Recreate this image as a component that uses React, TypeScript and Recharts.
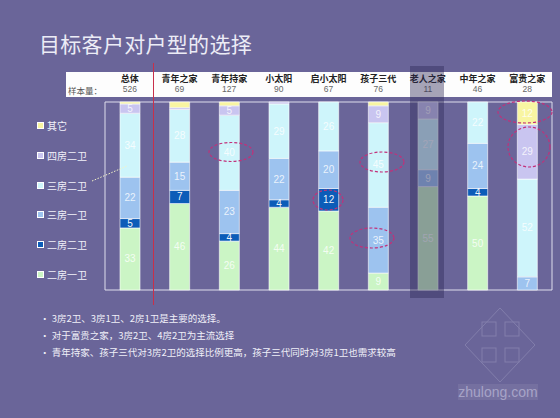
import React from 'react'
import { BarChart, Bar, XAxis, YAxis, LabelList, ReferenceArea } from 'recharts'

const categories = ['总体', '青年之家', '青年持家', '小太阳', '启小太阳', '孩子三代', '老人之家', '中年之家', '富贵之家']
const sampleSizes = [526, 69, 127, 90, 67, 76, 11, 46, 28]

// percent of each household type, bottom to top of the stack
const twoRoomOneBath = [33, 46, 26, 44, 42, 9, 55, 50, 0]
const twoRoomTwoBath = [5, 7, 4, 4, 12, 0, 0, 4, 0]
const threeRoomOneBath = [22, 15, 23, 22, 20, 35, 9, 24, 7]
const threeRoomTwoBath = [34, 28, 40, 29, 26, 45, 27, 22, 52]
const fourRoomTwoBath = [5, 1, 5, 1, 0, 9, 9, 0, 29]
const otherType = [1, 3, 2, 0, 0, 2, 0, 0, 12]

const seriesNames = ['二房一卫', '二房二卫', '三房一卫', '三房二卫', '四房二卫', '其它']
const seriesColors = ['#cbf5c5', '#0c5cb8', '#9dc3ef', '#cef5fb', '#c9c5f0', '#f8f5a2']
const seriesValues = [twoRoomOneBath, twoRoomTwoBath, threeRoomOneBath, threeRoomTwoBath, fourRoomTwoBath, otherType]

const bullets = [
    ' 3房2卫、3房1卫、2房1卫是主要的选择。',
    '对于富贵之家，3房2卫、4房2卫为主流选择',
    '青年持家、孩子三代对3房2卫的选择比例更高，孩子三代同时对3房1卫也需求较高',
]

const W = 560
const H = 418
const BG = '#6a6599'
const plot = { left: 105, top: 102, right: 552, bottom: 290 }
const band = (plot.right - plot.left) / categories.length
const CJK = '"Noto Sans CJK SC", "Noto Sans", sans-serif'

const chartData = categories.map((name, i) => {
    const row: Record<string, string | number> = { name }
    seriesNames.forEach((s, k) => {
        row[s] = seriesValues[k][i]
    })
    return row
})

const edgeTicks = [...categories.map((_, i) => i), categories.length]

const makeLabel = (dark: boolean) => (props: any) => {
    const { x, y, width, height, value } = props
    if (value == null || value < 4) return null
    return (
        <text
            x={x + width / 2}
            y={y + height / 2}
            dy={3.5}
            textAnchor="middle"
            fill="#ffffff"
            fillOpacity={dark ? 0.95 : 0.8}
            fontSize={10}
            fontFamily="Arial, sans-serif"
        >
            {value}
        </text>
    )
}

// dashed callouts drawn on top of the picture
const ellipses = [
    { cx: 231, cy: 152, rx: 22, ry: 9.5 },
    { cx: 328, cy: 200, rx: 15, ry: 10 },
    { cx: 382, cy: 162, rx: 22, ry: 10 },
    { cx: 372, cy: 238, rx: 22, ry: 10 },
    { cx: 525, cy: 112, rx: 27, ry: 11 },
    { cx: 529, cy: 147, rx: 21, ry: 20 },
]

export default function App() {
    return (
        <div
            style={{
                position: 'absolute',
                left: 0,
                top: 0,
                width: W,
                height: H,
                background: BG,
                overflow: 'hidden',
                fontFamily: CJK,
            }}
        >
            {/* title */}
            <div
                style={{
                    position: 'absolute',
                    left: 39,
                    top: 28,
                    fontSize: 21,
                    color: '#ececf6',
                    letterSpacing: 0.3,
                }}
            >
                目标客户对户型的选择
            </div>

            {/* sample size table */}
            <div
                style={{
                    position: 'absolute',
                    left: 66,
                    top: 72,
                    width: plot.right - 66,
                    height: 25,
                    background: '#fdfdfd',
                }}
            />
            <div style={{ position: 'absolute', left: 68, top: 84, fontSize: 8.5, color: '#555' }}>样本量：</div>
            {categories.map((c, i) => (
                <React.Fragment key={c}>
                    <div
                        style={{
                            position: 'absolute',
                            left: plot.left + (i + 0.5) * band,
                            top: 72,
                            transform: 'translateX(-50%)',
                            fontSize: 9,
                            fontWeight: 700,
                            color: '#222',
                            whiteSpace: 'nowrap',
                        }}
                    >
                        {c}
                    </div>
                    <div
                        style={{
                            position: 'absolute',
                            left: plot.left + (i + 0.5) * band,
                            top: 84,
                            transform: 'translateX(-50%)',
                            fontSize: 8.5,
                            fontFamily: 'Arial, sans-serif',
                            color: '#666',
                        }}
                    >
                        {sampleSizes[i]}
                    </div>
                </React.Fragment>
            ))}

            {/* chart */}
            <div style={{ position: 'absolute', left: 0, top: 0 }}>
                <BarChart
                    width={W}
                    height={H}
                    data={chartData}
                    stackOffset="expand"
                    barSize={20}
                    margin={{ top: plot.top, right: W - plot.right, bottom: H - plot.bottom, left: plot.left }}
                >
                    <XAxis xAxisId="cat" dataKey="name" hide height={0} />
                    <XAxis
                        xAxisId="edge"
                        type="number"
                        domain={[0, categories.length]}
                        ticks={edgeTicks}
                        interval={0}
                        tickFormatter={() => ''}
                        mirror
                        tickSize={4}
                        height={0}
                        allowDataOverflow
                        axisLine={{ stroke: '#e4e4f0' }}
                        tickLine={{ stroke: '#e4e4f0' }}
                    />
                    <YAxis hide domain={[0, 1]} width={0} />
                    <ReferenceArea xAxisId="cat" y1={0} y2={1} fill="none" stroke="#dedeec" strokeWidth={1} />
                    {seriesNames.map((s, k) => (
                        <Bar
                            key={s}
                            xAxisId="cat"
                            dataKey={s}
                            stackId="a"
                            fill={seriesColors[k]}
                            stroke="#ffffff"
                            strokeWidth={0.6}
                            isAnimationActive={false}
                        >
                            <LabelList dataKey={s} content={makeLabel(k === 1)} />
                        </Bar>
                    ))}
                </BarChart>
            </div>

            {/* legend */}
            {seriesNames
                .map((s, k) => ({ s, c: seriesColors[k] }))
                .reverse()
                .map((e, i) => (
                    <div
                        key={e.s}
                        style={{
                            position: 'absolute',
                            left: 37,
                            top: 118 + i * 29.8,
                            display: 'flex',
                            alignItems: 'center',
                            gap: 3,
                            fontSize: 10,
                            color: '#f2f2fa',
                        }}
                    >
                        <span
                            style={{
                                width: 5,
                                height: 5,
                                background: e.c,
                                border: '1px solid #ffffff',
                                display: 'inline-block',
                            }}
                        />
                        {e.s}
                    </div>
                ))}

            {/* annotations */}
            <svg width={W} height={H} style={{ position: 'absolute', left: 0, top: 0, pointerEvents: 'none' }}>
                <line x1={153.5} y1={63} x2={153.5} y2={305} stroke="#c8304a" strokeWidth={1} />
                <line x1={92} y1={181} x2={127} y2={166} stroke="#f4f4c8" strokeWidth={1} strokeDasharray="1.5 1.5" />
                {ellipses.map((e, i) => (
                    <ellipse
                        key={i}
                        cx={e.cx}
                        cy={e.cy}
                        rx={e.rx}
                        ry={e.ry}
                        fill="none"
                        stroke="#c2307a"
                        strokeWidth={1.2}
                        strokeDasharray="3 2"
                    />
                ))}
                {/* faint watermark */}
                <g opacity={0.22} stroke="#d8d8ee" fill="none">
                    <polygon points="500,308 535,345 500,382 465,345" />
                    <rect x={482} y={322} width={14} height={14} />
                    <rect x={505} y={322} width={14} height={14} />
                    <rect x={482} y={348} width={14} height={14} />
                    <rect x={505} y={348} width={14} height={14} />
                </g>
                <rect x={458} y={384} width={80} height={16} fill="#8a86b0" opacity={0.35} />
                <text x={498} y={397} textAnchor="middle" fontSize={14} fontFamily="Arial, sans-serif" fill="#c8c6e0" opacity={0.6}>
                    zhulong.com
                </text>
            </svg>

            {/* highlight overlay on 老人之家 */}
            <div
                style={{
                    position: 'absolute',
                    left: 410,
                    top: 66,
                    width: 34,
                    height: 232,
                    background: 'rgba(45,40,85,0.42)',
                }}
            />

            {/* notes */}
            {bullets.map((b, i) => (
                <div
                    key={i}
                    style={{
                        position: 'absolute',
                        left: 40,
                        top: 311 + i * 17,
                        fontSize: 9.5,
                        color: '#f0f0f8',
                        whiteSpace: 'nowrap',
                    }}
                >
                    • {b}
                </div>
            ))}
        </div>
    )
}
